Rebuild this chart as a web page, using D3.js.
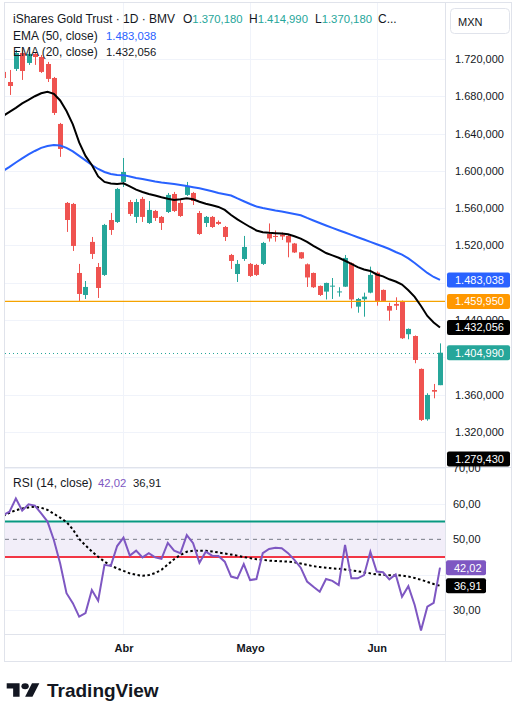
<!DOCTYPE html>
<html>
<head>
<meta charset="utf-8">
<script src="https://cdn.jsdelivr.net/npm/d3@7"></script>
<style>
body { margin: 0; background: #fff; }
svg { display: block; font-family: "Liberation Sans", Arial, sans-serif; }
</style>
</head>
<body>
<div id="chart"></div>
<script>
// daily candles, index 0 is the bar cut off at the left edge
const opens = [1706.1, 1695.3, 1709.3, 1726.4, 1715.7, 1725.4, 1722.1, 1714.6, 1699.6, 1650.3,
    1565.6, 1564.5, 1490.5, 1466.9, 1523.8, 1496.9, 1488.4, 1547.3, 1545.2, 1588.1,
    1566.6, 1550.6, 1569.9, 1544.1, 1557.0, 1550.6, 1555.9, 1575.2, 1565.6, 1574.2,
    1576.3, 1554.8, 1544.1, 1550.6, 1545.2, 1539.8, 1509.8, 1489.4, 1505.5, 1500.2,
    1499.1, 1500.2, 1532.3, 1530.2, 1531.8, 1530.2, 1522.1, 1512.7, 1499.8, 1490.5,
    1476.6, 1470.5, 1476.2, 1470.1, 1475.8, 1500.9, 1454.4, 1462.3, 1469.4, 1490.8,
    1472.3, 1455.1, 1457.3, 1460.5, 1424.8, 1422.9, 1387.6, 1333.6, 1365.0, 1370.18];
const highs = [1710.3, 1708.2, 1729.6, 1729.6, 1727.5, 1727.5, 1724.3, 1716.8, 1700.7, 1651.4,
    1566.6, 1565.6, 1500.2, 1481.9, 1529.1, 1501.2, 1543.1, 1554.9, 1581.7, 1613.8,
    1568.8, 1569.9, 1572.0, 1567.7, 1558.1, 1551.6, 1576.3, 1577.4, 1569.9, 1588.1,
    1577.4, 1557.0, 1551.6, 1551.6, 1546.8, 1540.9, 1510.9, 1504.4, 1530.2, 1501.2,
    1500.2, 1523.8, 1543.6, 1536.1, 1533.9, 1531.3, 1522.7, 1513.0, 1500.7, 1491.0,
    1477.1, 1480.1, 1485.1, 1475.2, 1509.8, 1501.8, 1463.7, 1469.4, 1497.3, 1492.1,
    1472.8, 1458.6, 1464.4, 1461.0, 1431.0, 1423.5, 1388.1, 1361.5, 1371.5, 1414.99];
const lows = [1695.3, 1681.4, 1707.1, 1697.5, 1713.6, 1713.6, 1705.0, 1695.3, 1659.9, 1615.0,
    1534.5, 1514.1, 1460.5, 1462.6, 1505.5, 1463.7, 1487.3, 1531.3, 1544.1, 1582.7,
    1551.6, 1544.1, 1545.2, 1543.1, 1546.3, 1536.6, 1554.8, 1555.9, 1550.6, 1573.1,
    1563.4, 1531.3, 1539.8, 1538.8, 1542.0, 1524.8, 1494.8, 1480.8, 1503.4, 1486.2,
    1487.3, 1499.1, 1524.1, 1524.1, 1525.9, 1507.3, 1511.9, 1505.5, 1475.5, 1474.4,
    1465.8, 1462.1, 1462.6, 1465.1, 1475.5, 1452.6, 1447.9, 1443.6, 1468.7, 1455.4,
    1459.4, 1439.3, 1450.8, 1419.7, 1419.4, 1393.7, 1331.8, 1332.1, 1356.1, 1370.18];
const closes = [1699.6, 1691.0, 1726.4, 1707.1, 1725.4, 1722.1, 1706.1, 1698.6, 1662.1, 1623.5,
    1547.3, 1519.5, 1468.0, 1475.5, 1510.9, 1474.4, 1542.0, 1536.6, 1580.6, 1598.8,
    1553.8, 1566.6, 1550.6, 1558.1, 1549.5, 1544.1, 1574.2, 1557.0, 1551.6, 1583.8,
    1567.7, 1532.3, 1550.6, 1539.8, 1543.1, 1529.1, 1503.4, 1500.2, 1518.4, 1487.3,
    1488.4, 1522.7, 1527.5, 1529.1, 1529.6, 1523.2, 1512.5, 1506.1, 1485.7, 1475.2,
    1466.9, 1479.8, 1476.9, 1470.7, 1506.6, 1462.1, 1462.6, 1465.1, 1488.4, 1460.5,
    1460.5, 1450.1, 1455.4, 1420.5, 1430.5, 1397.2, 1332.9, 1359.7, 1363.2, 1404.99];

const ema20 = [1658.9, 1663.2, 1667.5, 1672.3, 1676.0, 1680.0, 1683.2, 1684.8, 1682.5, 1675.5,
    1664.2, 1649.8, 1630.5, 1616.0, 1606.3, 1594.0, 1588.1, 1586.5, 1585.9, 1586.7,
    1583.3, 1579.8, 1577.4, 1575.2, 1573.6, 1571.7, 1570.1, 1568.8, 1569.6, 1570.6,
    1569.5, 1566.9, 1564.7, 1563.1, 1561.3, 1558.1, 1552.7, 1547.9, 1543.8, 1539.8,
    1536.1, 1534.2, 1533.5, 1533.1, 1532.8, 1532.1, 1529.9, 1527.4, 1523.8, 1519.5,
    1515.7, 1511.9, 1509.3, 1506.8, 1503.6, 1500.2, 1496.7, 1494.3, 1492.7, 1488.9,
    1486.8, 1483.7, 1481.3, 1478.1, 1471.9, 1464.8, 1455.1, 1444.4, 1437.4, 1432.056];
const ema50 = [1599.9, 1604.2, 1609.0, 1613.3, 1617.6, 1621.3, 1624.6, 1626.7, 1627.8, 1627.2,
    1624.6, 1620.8, 1616.0, 1611.2, 1606.3, 1602.0, 1598.8, 1596.7, 1595.6, 1595.4,
    1594.0, 1592.4, 1591.3, 1589.9, 1588.6, 1587.6, 1586.8, 1585.9, 1584.9, 1583.8,
    1582.5, 1581.3, 1579.7, 1578.2, 1576.3, 1574.9, 1573.6, 1570.4, 1567.4, 1564.5,
    1561.8, 1560.2, 1558.9, 1557.5, 1556.5, 1555.1, 1553.8, 1552.4, 1549.5, 1546.8,
    1544.1, 1541.4, 1538.8, 1536.3, 1533.9, 1531.3, 1528.8, 1526.4, 1523.8, 1521.3,
    1518.9, 1516.2, 1513.0, 1510.1, 1506.1, 1501.2, 1495.9, 1490.5, 1486.2, 1483.038];

const rsi = [56.8, 57.8, 61.5, 58.1, 59.9, 59.5, 57.3, 55.0, 49.8, 43.2,
    34.8, 32.0, 28.2, 29.2, 35.7, 32.7, 42.8, 42.5, 48.1, 50.5,
    45.4, 46.8, 44.9, 46.1, 44.9, 44.5, 49.0, 46.8, 46.1, 51.2,
    48.9, 43.4, 46.5, 45.4, 45.3, 43.7, 39.5, 39.0, 43.0, 38.5,
    38.8, 46.1, 47.3, 47.6, 47.5, 46.1, 44.2, 42.0, 38.1, 36.6,
    35.2, 38.8, 38.3, 37.1, 48.4, 39.0, 39.0, 39.9, 46.5, 40.9,
    40.7, 38.7, 40.1, 33.8, 36.8, 31.5, 24.3, 31.0, 32.1, 42.02];
const rsiMa = [56.6, 57.5, 58.2, 58.7, 59.0, 59.2, 58.9, 58.3, 57.2, 56.1,
    54.9, 52.8, 50.1, 48.3, 46.6, 45.1, 43.7, 42.6, 41.8, 41.1,
    40.4, 40.0, 39.7, 39.9, 40.5, 41.4, 42.9, 44.4, 45.6, 46.5,
    46.8, 46.8, 46.8, 46.6, 46.3, 46.0, 45.7, 45.4, 45.0, 44.7,
    44.4, 44.2, 44.0, 43.9, 43.8, 43.7, 43.5, 43.2, 42.8, 42.4,
    42.2, 42.0, 41.8, 41.7, 41.5, 41.2, 41.0, 40.7, 40.4, 40.1,
    40.0, 39.9, 39.9, 39.8, 39.5, 39.1, 38.6, 38.0, 37.4, 36.91];

const monthNames = ["Abr", "Mayo", "Jun"];
const monthIdx = [19, 39, 59];
const priceTicks = [1320, 1360, 1400, 1440, 1480, 1520, 1560, 1600, 1640, 1680, 1720];
const priceLabelTicks = [1320, 1360, 1440, 1520, 1560, 1600, 1640, 1680, 1720];
const rsiTicks = [30, 40, 60, 70];
const rsiLabelTicks = [30, 50, 60, 70];
const rsiBands = [45, 50, 55];
const levelLine = 1459.95;
const offscreenValue = 1279.43;

const W = 524, H = 709;
const L = 5, R = 445, T = 3, PB = 467, RB = 634, AB = 661;
const green = "#26A69A", red = "#EF5350", blue = "#2962FF", orange = "#FF9800", purple = "#7E57C2";
const gridColor = "#F0F3FA", borderColor = "#E0E3EB", textColor = "#131722";

const loc = d3.formatLocale({ decimal: ",", thousands: ".", grouping: [3], currency: ["", ""] });
const fmtPrice = loc.format(",.3f");
const fmtRsi = loc.format(",.2f");

const svg = d3.select("#chart").append("svg").attr("width", W).attr("height", H);

const x = d3.scaleLinear().domain([0, 69]).range([3.2, 440]);
const y = d3.scaleLinear().domain([1283.5, 1780]).range([466, 3]);
const yr = d3.scaleLinear().domain([23.3, 70.4]).range([RB, PB]);

const defs = svg.append("defs");
defs.append("clipPath").attr("id", "clipPrice")
    .append("rect").attr("x", L).attr("y", T).attr("width", R - L).attr("height", PB - T);
defs.append("clipPath").attr("id", "clipRsi")
    .append("rect").attr("x", L).attr("y", PB).attr("width", R - L).attr("height", RB - PB);

// grid
svg.append("g").selectAll("line").data(priceTicks).join("line")
    .attr("x1", L).attr("x2", R)
    .attr("y1", d => Math.round(y(d)) + 0.5).attr("y2", d => Math.round(y(d)) + 0.5)
    .attr("stroke", gridColor);
svg.append("g").selectAll("line").data(rsiTicks).join("line")
    .attr("x1", L).attr("x2", R)
    .attr("y1", d => Math.round(yr(d)) + 0.5).attr("y2", d => Math.round(yr(d)) + 0.5)
    .attr("stroke", gridColor);
svg.append("g").selectAll("line").data(monthIdx).join("line")
    .attr("x1", d => Math.round(x(d)) + 0.5).attr("x2", d => Math.round(x(d)) + 0.5)
    .attr("y1", T).attr("y2", RB)
    .attr("stroke", gridColor);

// price pane
const pg = svg.append("g").attr("clip-path", "url(#clipPrice)");

const lastClose = closes[closes.length - 1];
pg.append("line")
    .attr("x1", L).attr("x2", R)
    .attr("y1", Math.round(y(lastClose)) + 0.5).attr("y2", Math.round(y(lastClose)) + 0.5)
    .attr("stroke", green).attr("stroke-dasharray", "1 3");

const candles = closes.map((c, i) => ({ i, o: opens[i], h: highs[i], l: lows[i], c }));
const col = d => d.c >= d.o ? green : red;

pg.selectAll(".wick").data(candles).join("line")
    .attr("class", "wick")
    .attr("x1", d => Math.round(x(d.i)) + 0.5).attr("x2", d => Math.round(x(d.i)) + 0.5)
    .attr("y1", d => y(d.h)).attr("y2", d => y(d.l))
    .attr("stroke", col);

pg.selectAll(".body").data(candles).join("rect")
    .attr("class", "body")
    .attr("x", d => Math.round(x(d.i)) - 2)
    .attr("width", 5)
    .attr("y", d => y(Math.max(d.o, d.c)))
    .attr("height", d => Math.max(1, Math.abs(y(d.o) - y(d.c))))
    .attr("fill", col);

pg.append("line")
    .attr("x1", L).attr("x2", R)
    .attr("y1", y(levelLine)).attr("y2", y(levelLine))
    .attr("stroke", "#F5A300").attr("stroke-width", 1.3);

const line = d3.line().x((d, i) => x(i)).y(d => y(d));
pg.append("path").datum(ema50).attr("d", line)
    .attr("fill", "none").attr("stroke", blue).attr("stroke-width", 2);
pg.append("path").datum(ema20).attr("d", line)
    .attr("fill", "none").attr("stroke", "#000").attr("stroke-width", 2);

// rsi pane
const rg = svg.append("g").attr("clip-path", "url(#clipRsi)");
rg.append("rect")
    .attr("x", L).attr("width", R - L)
    .attr("y", yr(rsiBands[2])).attr("height", yr(rsiBands[0]) - yr(rsiBands[2]))
    .attr("fill", purple).attr("fill-opacity", 0.1);
rg.append("line")
    .attr("x1", L).attr("x2", R).attr("y1", yr(rsiBands[1])).attr("y2", yr(rsiBands[1]))
    .attr("stroke", "#787B86").attr("stroke-dasharray", "4 4");
rg.append("line")
    .attr("x1", L).attr("x2", R).attr("y1", yr(rsiBands[2])).attr("y2", yr(rsiBands[2]))
    .attr("stroke", "#089981").attr("stroke-width", 2);
rg.append("line")
    .attr("x1", L).attr("x2", R).attr("y1", yr(rsiBands[0])).attr("y2", yr(rsiBands[0]))
    .attr("stroke", "#F23645").attr("stroke-width", 2);

const rline = d3.line().x((d, i) => x(i)).y(d => yr(d));
rg.append("path").datum(rsiMa).attr("d", rline)
    .attr("fill", "none").attr("stroke", "#000").attr("stroke-width", 2)
    .attr("stroke-dasharray", "2.5 2.5");
rg.append("path").datum(rsi).attr("d", rline)
    .attr("fill", "none").attr("stroke", purple).attr("stroke-width", 2);

// frame
const frame = svg.append("g").attr("stroke", borderColor).attr("fill", "none");
frame.append("rect").attr("x", 4.5).attr("y", 2.5).attr("width", 507).attr("height", AB - 2);
frame.append("line").attr("x1", R + 0.5).attr("x2", R + 0.5).attr("y1", T).attr("y2", AB);
frame.append("line").attr("x1", 4.5).attr("x2", 511.5).attr("y1", PB + 0.5).attr("y2", PB + 0.5);
frame.append("line").attr("x1", 4.5).attr("x2", R).attr("y1", RB + 0.5).attr("y2", RB + 0.5);

// axes
const styleAxis = g => {
    g.select(".domain").remove();
    g.selectAll("text").attr("fill", textColor).style("font-size", "11px")
        .style("font-family", "'Liberation Sans', Arial, sans-serif");
};
svg.append("g").attr("transform", `translate(${R},0)`)
    .call(d3.axisRight(y).tickValues(priceLabelTicks).tickFormat(fmtPrice).tickSize(0).tickPadding(10))
    .call(styleAxis);
svg.append("g").attr("transform", `translate(${R},0)`)
    .call(d3.axisRight(yr).tickValues(rsiLabelTicks).tickFormat(fmtRsi).tickSize(0).tickPadding(8))
    .call(styleAxis);
svg.append("g").attr("transform", `translate(0,${RB})`)
    .call(d3.axisBottom(x).tickValues(monthIdx).tickFormat((d, i) => monthNames[i]).tickSize(0).tickPadding(10))
    .call(styleAxis)
    .selectAll("text").style("font-weight", "bold");

// value tags on the scales
function tag(yc, text, fill, x0, w) {
    const g = svg.append("g");
    g.append("rect").attr("x", x0).attr("y", yc - 7.5).attr("width", w).attr("height", 15)
        .attr("rx", 2).attr("fill", fill);
    g.append("text").attr("x", x0 + 8).attr("y", yc + 4).attr("fill", "#fff")
        .style("font-size", "11px").text(text);
}
tag(y(ema50[ema50.length - 1]), fmtPrice(ema50[ema50.length - 1]), blue, 447, 63);
tag(y(levelLine), fmtPrice(levelLine), orange, 447, 63);
tag(y(ema20[ema20.length - 1]), fmtPrice(ema20[ema20.length - 1]), "#000", 447, 63);
tag(y(lastClose), fmtPrice(lastClose), green, 447, 63);
tag(Math.min(y(offscreenValue), PB - 8), fmtPrice(offscreenValue), "#000", 447, 63);
tag(yr(rsi[rsi.length - 1]), fmtRsi(rsi[rsi.length - 1]), purple, 446, 40);
tag(yr(rsiMa[rsiMa.length - 1]), fmtRsi(rsiMa[rsiMa.length - 1]), "#000", 446, 40);

// currency button
svg.append("rect").attr("x", 450.5).attr("y", 8.5).attr("width", 59).attr("height", 25).attr("rx", 4)
    .attr("fill", "#fff").attr("stroke", borderColor);
svg.append("text").attr("x", 458).attr("y", 26).attr("fill", textColor)
    .style("font-size", "11px").text("MXN");

// legends
const leg = svg.append("g").style("font-size", "12px").attr("fill", textColor);
leg.append("text").attr("x", 13).attr("y", 23).text("iShares Gold Trust · 1D · BMV");
const ohlc = [["O", opens[69], 183], ["H", highs[69], 249], ["L", lows[69], 315]];
ohlc.forEach(([k, v, px]) => {
    const t = leg.append("text").attr("x", px).attr("y", 23);
    t.append("tspan").text(k);
    t.append("tspan").attr("fill", green).style("font-size", "11.3px").text(fmtPrice(v));
});
leg.append("text").attr("x", 378).attr("y", 23).text("C...");
leg.append("text").attr("x", 13).attr("y", 40).text("EMA (50, close)");
leg.append("text").attr("x", 106).attr("y", 40).attr("fill", blue).style("font-size", "11.3px")
    .text(fmtPrice(ema50[69]));
leg.append("text").attr("x", 13).attr("y", 56).text("EMA (20, close)");
leg.append("text").attr("x", 106).attr("y", 56).style("font-size", "11.3px")
    .text(fmtPrice(ema20[69]));
leg.append("text").attr("x", 13).attr("y", 487).text("RSI (14, close)");
leg.append("text").attr("x", 98).attr("y", 487).attr("fill", purple).style("font-size", "11.3px")
    .text(fmtRsi(rsi[69]));
leg.append("text").attr("x", 133).attr("y", 487).style("font-size", "11.3px")
    .text(fmtRsi(rsiMa[69]));

// logo
const logo = svg.append("g").attr("fill", "#131722");
const mark = logo.append("g").attr("transform", "translate(6.7,680.3) scale(0.92,0.745)");
mark.append("path").attr("d", "M14 22H7V11H0V4h14v18zM28 22h-8l7.5-18h8L28 22z");
mark.append("circle").attr("cx", 20).attr("cy", 8).attr("r", 4);
logo.append("text").attr("x", 47).attr("y", 697).style("font-size", "19px").style("font-weight", "bold")
    .text("TradingView");
</script>
</body>
</html>
